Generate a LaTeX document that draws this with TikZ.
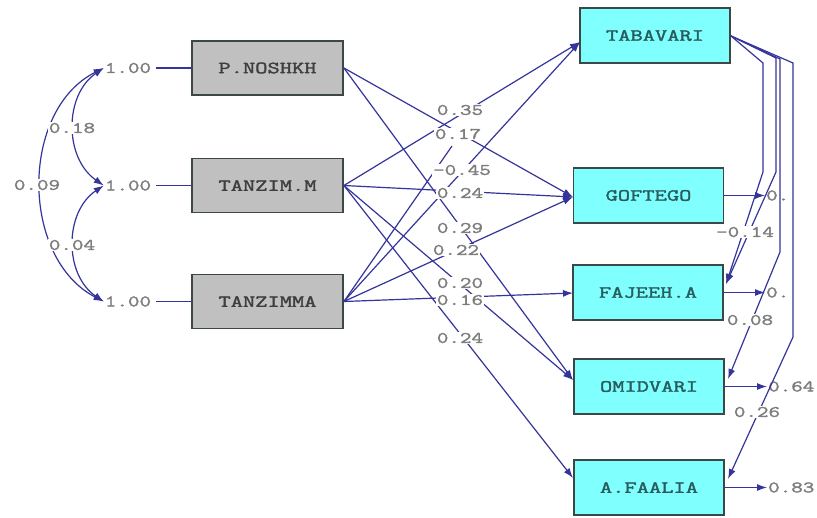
\documentclass[tikz,border=0pt]{standalone}
\usepackage{fontspec}
\usetikzlibrary{arrows.meta}
\newfontfamily\lmono[FakeStretch=1.4, FakeBold=2]{Latin Modern Mono}
\definecolor{ln}{RGB}{52,52,155}
\definecolor{gbox}{RGB}{192,192,192}
\definecolor{cbox}{RGB}{128,255,255}
\definecolor{bord}{RGB}{60,72,72}
\definecolor{numc}{RGB}{125,125,125}
\definecolor{ctext}{RGB}{40,92,92}
\definecolor{gtext}{RGB}{62,62,62}
\begin{document}
\begin{tikzpicture}[x=1pt,y=-1pt,
  xbox/.style={draw=bord, line width=1.8pt, fill=gbox, minimum width=151pt, minimum height=54pt,
    font=\lmono\fontsize{17}{17}\selectfont, text=gtext, inner sep=0pt},
  ybox/.style={xbox, fill=cbox, minimum width=150pt, minimum height=55pt, text=ctext},
  num/.style={font=\lmono\fontsize{16}{16}\selectfont, text=numc, inner sep=1pt},
  numw/.style={num, fill=white},
  lnline/.style={draw=ln, line width=1.2pt},
  pth/.style={lnline, -{Latex[length=10pt,width=7pt]}},
  cov/.style={lnline, {Latex[length=10pt,width=7pt]}-{Latex[length=10pt,width=7pt]}}
]
\path[use as bounding box, fill=white] (0,0) rectangle (817,517);

% boxes
\node[xbox] (PN) at (267.5,68) {P.NOSHKH};
\node[xbox] (TM) at (267.5,185.5) {TANZIM.M};
\node[xbox] (TA) at (267.5,301.5) {TANZIMMA};
\node[ybox] (TAB) at (655,35.5) {TABAVARI};
\node[ybox] (GOF) at (648.5,195.5) {GOFTEGO};
\node[ybox] (FAJ) at (648,292.5) {FAJEEH.A};
\node[ybox] (OMI) at (649,386.5) {OMIDVARI};
\node[ybox] (AFA) at (649,487.5) {A.FAALIA};

% variances of X
\node[num] (o1) at (128,68) {1.00};
\node[num] (o2) at (128,185.5) {1.00};
\node[num] (o3) at (128,301.5) {1.00};
\draw[lnline] ([xshift=4pt]o1.east) -- (PN.west);
\draw[lnline] ([xshift=4pt]o2.east) -- (TM.west);
\draw[lnline] ([xshift=4pt]o3.east) -- (TA.west);

% covariances
\draw[cov] (o1.west) .. controls (64,95) and (64,158) .. (o2.west);
\draw[cov] (o2.west) .. controls (64,212) and (64,275) .. (o3.west);
\draw[cov] (o1.west) .. controls (20,110) and (20,258) .. (o3.west);
\node[numw] (k18) at (72,128) {0.18};
\node[numw] (k09) at (37,185) {0.09};
\node[numw] (k04) at (72,245) {0.04};

% arrow targets on Y boxes
\coordinate (tTAB) at (580,42);
\coordinate (tGOF) at (573,197);
\coordinate (tFAJ) at (573,293);
\coordinate (tOMI) at (573,380);
\coordinate (tAFA) at (573,478);
\coordinate (xe) at (452,146);

% gamma paths
\draw[pth] (TM.east) -- (tTAB);
\draw[pth] (PN.east) -- (tGOF);
\draw[pth] (TA.east) -- (tTAB);
\draw[lnline] (TA.east) -- (xe);
\draw[pth] (TM.east) -- (tGOF);
\draw[pth] (PN.east) -- (tOMI);
\draw[pth] (TA.east) -- (tGOF);
\draw[pth] (TM.east) -- (tOMI);
\draw[pth] (TA.east) -- (tFAJ);
\draw[pth] (TM.east) -- (tAFA);

\node[numw] at (460,110) {0.35};
\node[numw] at (458,134) {0.17};
\node[numw] at (462,170) {-0.45};
\node[numw] at (460,193) {0.24};
\node[numw] at (460,228) {0.29};
\node[numw] at (456,250) {0.22};
\node[numw] at (460,283) {0.20};
\node[numw] at (460,300) {0.16};
\node[numw] at (460,338) {0.24};

% residuals
\node[num, anchor=west] (eGOF) at (765,195.5) {0.};
\node[num, anchor=west] (eFAJ) at (765,292.5) {0.};
\node[num, anchor=west] (eOMI) at (767,386.5) {0.64};
\node[num, anchor=west] (eAFA) at (767,487.5) {0.83};
\draw[pth] (GOF.east) -- (eGOF.west);
\draw[pth] (FAJ.east) -- (eFAJ.west);
\draw[pth] (OMI.east) -- (eOMI.west);
\draw[pth] (AFA.east) -- (eAFA.west);

% beta paths from TABAVARI
\coordinate (sT) at (731,36);
\coordinate (bFAJ) at (726,284);
\coordinate (bOMI) at (728,379);
\coordinate (bAFA) at (728,479);
\draw[pth] (sT) -- (763,63) -- (763,172) -- (bFAJ);
\draw[pth] (sT) -- (776,58) -- (776,172) -- (bFAJ);
\draw[pth] (sT) -- (780,59) -- (780,252) -- (bOMI);
\draw[pth] (sT) -- (793,63) -- (793,337) -- (bAFA);
\node[numw] at (745,232) {-0.14};
\node[numw] at (750,320) {0.08};
\node[numw] at (757,412) {0.26};
\end{tikzpicture}
\end{document}
